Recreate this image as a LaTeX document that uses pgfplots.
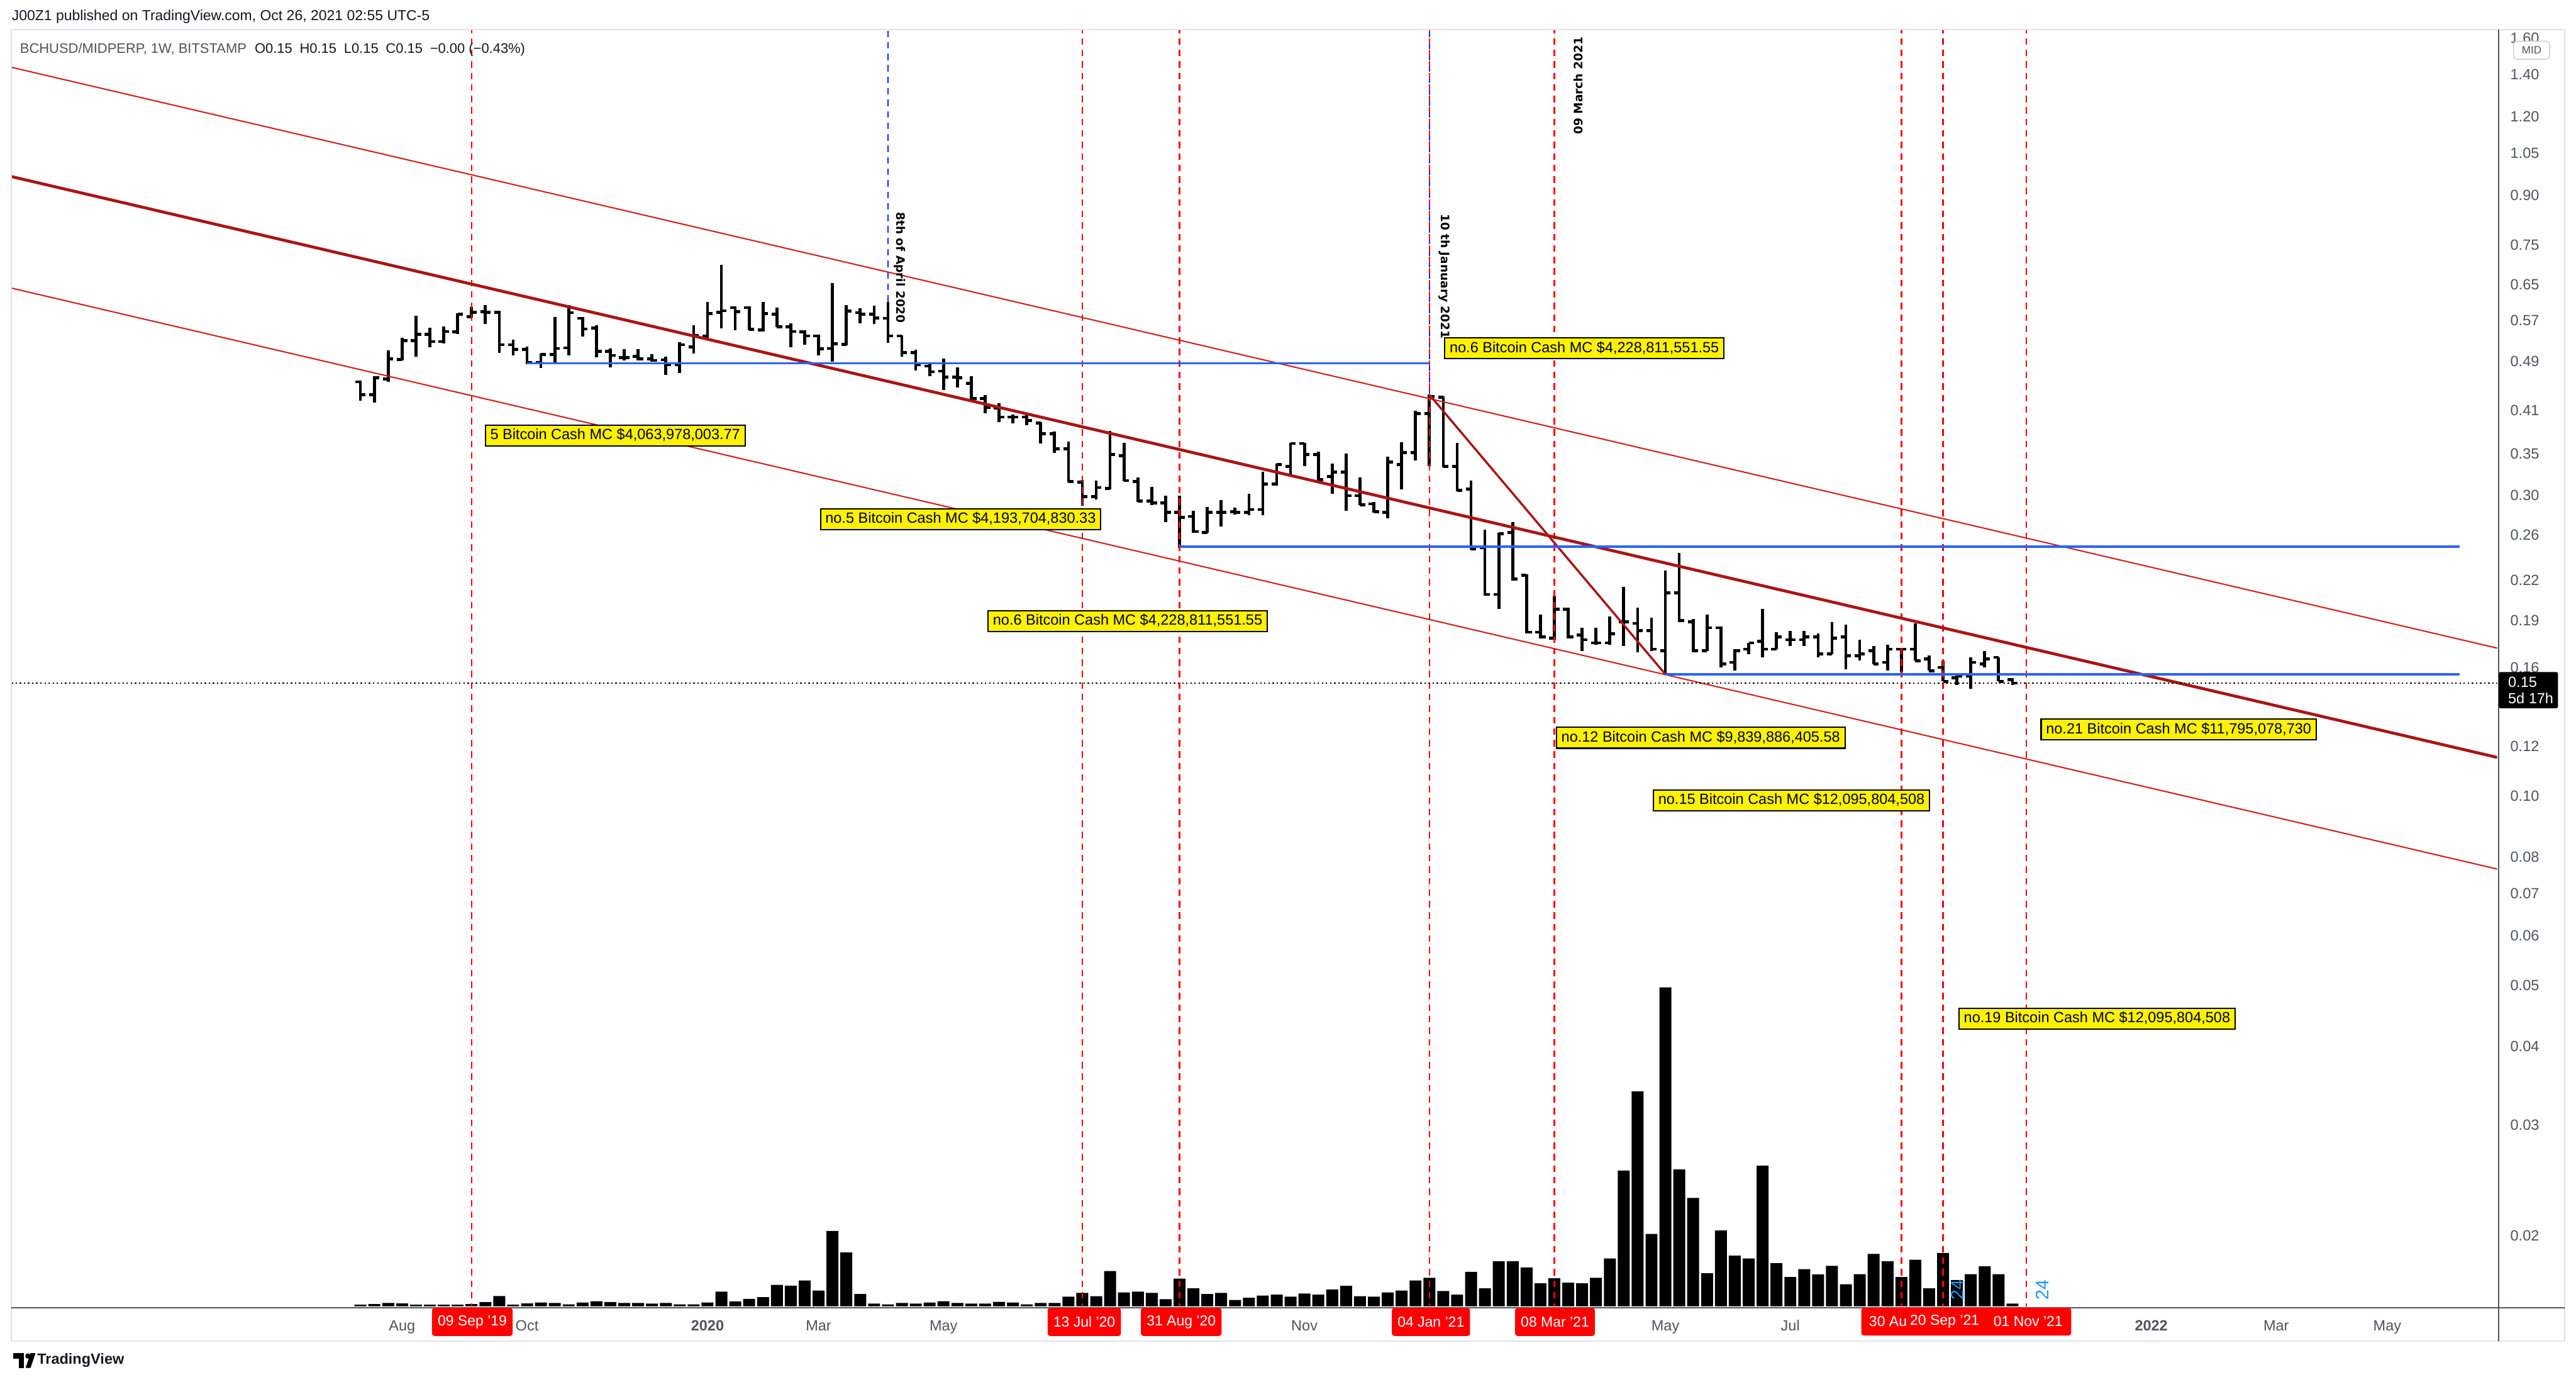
\documentclass[border=0pt]{standalone}
\usepackage{pgfplots}
\pgfplotsset{compat=1.18}
\usepackage{pgfplotstable}
\usepackage{fontspec}
\setmainfont{Liberation Sans}
\newfontfamily\dvsans{DejaVu Sans}
\definecolor{tvred}{RGB}{255,0,0}
\definecolor{chred}{RGB}{170,20,20}
\definecolor{thinred}{RGB}{205,35,35}
\definecolor{tvblue}{RGB}{41,98,255}
\definecolor{vblue}{RGB}{20,40,255}
\definecolor{axgray}{RGB}{80,83,94}
\definecolor{tvtext}{RGB}{19,23,34}
\definecolor{framegray}{RGB}{224,227,235}
\definecolor{labelblue}{RGB}{33,150,243}

\pgfplotstableread{
w O H L C
-8 0.455 0.457 0.425 0.434
-7 0.434 0.464 0.422 0.462
-6 0.460 0.510 0.455 0.495
-5 0.494 0.534 0.492 0.529
-4 0.529 0.579 0.499 0.541
-3 0.541 0.554 0.516 0.527
-2 0.527 0.557 0.524 0.547
-1 0.546 0.584 0.542 0.583
0 0.577 0.598 0.575 0.587
1 0.588 0.603 0.562 0.587
2 0.587 0.590 0.506 0.521
3 0.521 0.531 0.501 0.512
4 0.512 0.517 0.485 0.488
5 0.488 0.505 0.479 0.503
6 0.503 0.576 0.488 0.514
7 0.515 0.603 0.501 0.586
8 0.574 0.576 0.537 0.552
9 0.554 0.559 0.498 0.509
10 0.509 0.514 0.480 0.501
11 0.497 0.513 0.492 0.497
12 0.499 0.513 0.492 0.495
13 0.495 0.503 0.490 0.492
14 0.493 0.499 0.467 0.485
15 0.485 0.526 0.470 0.521
16 0.517 0.560 0.505 0.539
17 0.538 0.610 0.534 0.584
18 0.587 0.698 0.553 0.590
19 0.597 0.599 0.549 0.588
20 0.597 0.599 0.549 0.551
21 0.550 0.610 0.547 0.584
22 0.583 0.597 0.556 0.556
23 0.556 0.563 0.516 0.547
24 0.546 0.550 0.521 0.538
25 0.538 0.541 0.501 0.513
26 0.514 0.653 0.490 0.523
27 0.522 0.602 0.520 0.589
28 0.586 0.595 0.563 0.583
29 0.583 0.601 0.562 0.575
30 0.574 0.610 0.525 0.538
31 0.538 0.540 0.499 0.506
32 0.506 0.512 0.474 0.484
33 0.482 0.485 0.464 0.472
34 0.473 0.495 0.441 0.463
35 0.463 0.480 0.446 0.462
36 0.452 0.464 0.426 0.428
37 0.428 0.433 0.405 0.414
38 0.413 0.421 0.393 0.400
39 0.400 0.404 0.391 0.400
40 0.400 0.406 0.388 0.395
41 0.391 0.393 0.363 0.376
42 0.376 0.379 0.351 0.356
43 0.356 0.366 0.315 0.316
44 0.315 0.318 0.289 0.299
45 0.299 0.317 0.296 0.309
46 0.308 0.380 0.307 0.349
47 0.347 0.364 0.316 0.317
48 0.316 0.321 0.293 0.294
49 0.294 0.310 0.290 0.292
50 0.292 0.300 0.272 0.282
51 0.282 0.300 0.248 0.277
52 0.278 0.284 0.262 0.263
53 0.262 0.288 0.262 0.282
54 0.282 0.295 0.268 0.282
55 0.283 0.287 0.280 0.282
56 0.282 0.302 0.279 0.285
57 0.285 0.327 0.279 0.313
58 0.313 0.337 0.311 0.336
59 0.334 0.364 0.324 0.363
60 0.363 0.364 0.334 0.349
61 0.349 0.352 0.317 0.318
62 0.322 0.337 0.302 0.327
63 0.327 0.350 0.284 0.300
64 0.300 0.321 0.290 0.290
65 0.291 0.293 0.282 0.283
66 0.282 0.346 0.276 0.339
67 0.336 0.365 0.307 0.351
68 0.351 0.409 0.341 0.405
69 0.405 0.434 0.334 0.431
70 0.430 0.431 0.333 0.334
71 0.334 0.364 0.305 0.306
72 0.307 0.317 0.246 0.247
73 0.248 0.265 0.208 0.209
74 0.209 0.262 0.198 0.261
75 0.262 0.272 0.220 0.221
76 0.224 0.225 0.181 0.182
77 0.182 0.194 0.178 0.179
78 0.178 0.208 0.177 0.198
79 0.198 0.199 0.178 0.179
80 0.180 0.185 0.170 0.177
81 0.175 0.185 0.174 0.175
82 0.175 0.193 0.174 0.181
83 0.189 0.215 0.173 0.189
84 0.188 0.199 0.169 0.183
85 0.183 0.192 0.170 0.171
86 0.170 0.228 0.156 0.210
87 0.210 0.243 0.189 0.190
88 0.189 0.191 0.169 0.170
89 0.170 0.194 0.170 0.185
90 0.185 0.186 0.160 0.162
91 0.163 0.171 0.158 0.170
92 0.171 0.175 0.168 0.175
93 0.176 0.198 0.166 0.171
94 0.171 0.182 0.171 0.179
95 0.177 0.183 0.173 0.177
96 0.177 0.183 0.173 0.179
97 0.179 0.181 0.166 0.168
98 0.168 0.189 0.168 0.178
99 0.179 0.187 0.159 0.167
100 0.167 0.177 0.164 0.168
101 0.170 0.173 0.162 0.162
102 0.163 0.174 0.158 0.171
103 0.171 0.172 0.157 0.171
104 0.171 0.188 0.164 0.164
105 0.165 0.167 0.158 0.158
106 0.160 0.164 0.152 0.152
107 0.154 0.156 0.150 0.155
108 0.155 0.166 0.148 0.163
109 0.162 0.170 0.160 0.165
110 0.166 0.166 0.152 0.152
111 0.153 0.154 0.150 0.151
}\ohlc

\pgfplotstableread{
w v
-8 7
-7 10
-6 15
-5 13
-4 7
-3 7
-2 7
-1 7
0 10
1 19
2 46
3 7
4 13
5 17
6 15
7 9
8 17
9 23
10 19
11 15
12 15
13 12
14 15
15 9
16 9
17 17
18 65
19 22
20 33
21 41
22 95
23 92
24 115
25 70
26 335
27 240
28 55
29 12
30 9
31 15
32 12
33 17
34 23
35 15
36 12
37 12
38 20
39 17
40 9
41 15
42 15
43 43
44 60
45 45
46 157
47 62
48 65
49 60
50 32
51 123
52 80
53 55
54 60
55 28
56 38
57 48
58 52
59 43
60 57
61 52
62 75
63 91
64 45
65 43
66 62
67 70
68 115
69 127
70 68
71 52
72 153
73 80
74 200
75 200
76 173
77 102
78 125
79 105
80 102
81 127
82 213
83 603
84 955
85 322
86 1417
87 608
88 482
89 147
90 337
91 225
92 213
93 625
94 192
95 130
96 165
97 142
98 180
99 98
100 143
101 233
102 200
103 130
104 207
105 80
106 237
107 117
108 143
109 178
110 143
111 12
}\vol

\pgfplotsset{ohlc/.style={black, line width=1.8pt, forget plot}}

\begin{document}
\begin{tikzpicture}[x=1pt,y=1pt]
\useasboundingbox (0,0) rectangle (1568,841);
\fill[white] (0,0) rectangle (1568,841);

% volume
\begin{axis}[at={(7pt,46pt)}, anchor=south west, scale only axis,
  width=1513pt, height=777pt, xmin=-33.136, xmax=145.917,
  ymin=0, ymax=5672, hide axis]
\addplot[ybar, bar width=0.86, fill=black, draw=none] table[x=w,y=v] {\vol};
\end{axis}

% price
\begin{axis}[at={(7pt,46pt)}, anchor=south west, scale only axis,
  width=1513pt, height=777pt, xmin=-33.136, xmax=145.917,
  ymode=log, ymin=0.01544, ymax=1.651,
  unbounded coords=jump,
  axis line style={draw=none},
  major tick length=0pt,
  ytick={0.02,0.03,0.04,0.05,0.06,0.07,0.08,0.10,0.12,0.16,0.19,0.22,0.26,0.30,0.35,0.41,0.49,0.57,0.65,0.75,0.90,1.05,1.20,1.40,1.60},
  yticklabels={0.02,0.03,0.04,0.05,0.06,0.07,0.08,0.10,0.12,0.16,0.19,0.22,0.26,0.30,0.35,0.41,0.49,0.57,0.65,0.75,0.90,1.05,1.20,1.40,1.60},
  yticklabel pos=right,
  yticklabel style={font=\fontsize{9}{10}\selectfont, text=axgray, anchor=west, xshift=4.5pt},
  xtick={-5,4,17,25,34,60,86,95,121,130,138},
  xticklabels={Aug,Oct,\textbf{2020},Mar,May,Nov,May,Jul,\textbf{2022},Mar,May},
  xticklabel style={font=\fontsize{9}{10}\selectfont, text=axgray, anchor=base, yshift=-14.7pt},
  ]
\pgfplotstablegetrowsof{\ohlc}
\pgfmathtruncatemacro{\lastrow}{\pgfplotsretval-1}
\pgfplotsforeachungrouped \r in {0,...,\lastrow}{%
  \pgfplotstablegetelem{\r}{w}\of\ohlc \let\bw=\pgfplotsretval
  \pgfplotstablegetelem{\r}{O}\of\ohlc \let\bo=\pgfplotsretval
  \pgfplotstablegetelem{\r}{H}\of\ohlc \let\bh=\pgfplotsretval
  \pgfplotstablegetelem{\r}{L}\of\ohlc \let\bl=\pgfplotsretval
  \pgfplotstablegetelem{\r}{C}\of\ohlc \let\bc=\pgfplotsretval
  \pgfmathsetmacro{\wl}{\bw-0.37}%
  \pgfmathsetmacro{\wr}{\bw+0.37}%
  \edef\doplot{\noexpand\addplot[ohlc] coordinates {(\bw,\bl) (\bw,\bh) (\bw,nan) (\wl,\bo) (\bw,\bo) (\bw,nan) (\bw,\bc) (\wr,\bc)};}%
  \doplot
}
% vertical date lines
\pgfplotsinvokeforeach{0,44,51,69,78,103,106,112}{
  \addplot[tvred, line width=0.9pt, dash pattern=on 4pt off 3pt, forget plot] coordinates {(#1,0.01) (#1,2)};
}
\addplot[vblue, line width=0.8pt, dash pattern=on 4pt off 3pt] coordinates {(30,0.61) (30,2)};
\addplot[vblue, line width=0.8pt, dash pattern=on 3pt off 4pt, dash phase=-0.5pt] coordinates {(69,0.434) (69,2)};
% channel
\addplot[thinred, line width=0.8pt] coordinates {(-33.136,1.438) (145.917,0.1717)};
\addplot[chred, line width=1.8pt] coordinates {(-33.136,0.964) (145.917,0.1151)};
\addplot[thinred, line width=0.8pt] coordinates {(-33.136,0.641) (145.917,0.0765)};
\addplot[chred, line width=1.3pt] coordinates {(69,0.434) (86,0.156)};
% horizontal levels
\addplot[tvblue, line width=1.3pt] coordinates {(4,0.487) (69,0.487)};
\addplot[tvblue, line width=1.3pt] coordinates {(51,0.249) (143.2,0.249)};
\addplot[tvblue, line width=1.3pt] coordinates {(86,0.156) (143.2,0.156)};
\addplot[black, line width=0.8pt, dash pattern=on 0.9pt off 1.6pt] coordinates {(-33.136,0.151) (145.917,0.151)};
\end{axis}

% frame and axes lines
\draw[framegray, line width=0.8pt] (7,823) rectangle (1561,25);
\draw[axgray, line width=0.8pt] (7,45.2) -- (1561,45.2);
\draw[axgray, line width=0.8pt] (1521,823) -- (1521,25);

% header
\node[anchor=west, inner sep=0, font=\fontsize{8.8}{10}\selectfont, text=tvtext] at (7,831) {J00Z1 published on TradingView.com, Oct 26, 2021 02:55 UTC-5};
\node[anchor=west, inner sep=0, font=\fontsize{8.4}{10}\selectfont, text=tvtext] at (12,811) {\textcolor{axgray}{BCHUSD/MIDPERP, 1W, BITSTAMP}\hspace{5pt}O0.15\hspace{4.5pt}H0.15\hspace{4.5pt}L0.15\hspace{4.5pt}C0.15\hspace{4.5pt}−0.00 (−0.43\%)};

% rotated notes
\node[rotate=-90, anchor=west, inner sep=0, font=\dvsans\bfseries\fontsize{7.1}{9}\selectfont] at (547.5,712) {8th of April 2020};
\node[rotate=-90, anchor=west, inner sep=0, font=\dvsans\bfseries\fontsize{7.1}{9}\selectfont] at (879,711) {10 th January 2021};
\node[rotate=90, anchor=west, inner sep=0, font=\dvsans\bfseries\fontsize{7.1}{9}\selectfont] at (960.5,759) {09 March 2021};

% yellow notes
\tikzset{lab/.style={anchor=west, fill=yellow, draw=black, line width=0.8pt, inner xsep=3pt, inner ysep=2pt, text height=6.8pt, text depth=1.9pt, font=\fontsize{9}{10}\selectfont}}
\node[lab] at (295,576) {5 Bitcoin Cash MC \$4,063,978,003.77};
\node[lab] at (499,525) {no.5 Bitcoin Cash MC \$4,193,704,830.33};
\node[lab] at (601,463) {no.6 Bitcoin Cash MC \$4,228,811,551.55};
\node[lab] at (879,629) {no.6 Bitcoin Cash MC \$4,228,811,551.55};
\node[lab] at (947,392) {no.12 Bitcoin Cash MC \$9,839,886,405.58};
\node[lab] at (1006,354) {no.15 Bitcoin Cash MC \$12,095,804,508};
\node[lab] at (1192,221) {no.19 Bitcoin Cash MC \$12,095,804,508};
\node[lab] at (1242,397) {no.21 Bitcoin Cash MC \$11,795,078,730};

% blue small texts
\node[rotate=90, inner sep=0, text=labelblue, font=\fontsize{11}{12}\selectfont] at (1191.5,56) {24};
\node[rotate=90, inner sep=0, text=labelblue, font=\fontsize{11}{12}\selectfont] at (1243,56) {24};

% date boxes
\tikzset{dbox/.style={anchor=north, fill=tvred, text=white, inner xsep=3.5pt, minimum height=17pt, rounded corners=1.5pt, font=\fontsize{8.8}{10}\selectfont}}
\node[dbox] at (287.5,45.2) {09 Sep '19};
\node[dbox] at (660,45.2) {13 Jul '20};
\node[dbox] at (719,45.2) {31 Aug '20};
\node[dbox] at (871,45.2) {04 Jan '21};
\node[dbox] at (946.5,45.2) {08 Mar '21};
\fill[tvred, rounded corners=1.5pt] (1133,28.2) rectangle (1260.7,45.2);
\node[anchor=west, text=white, inner sep=0, font=\fontsize{8.8}{10}\selectfont] at (1137.5,36.7) {30 Au};
\node[text=white, inner sep=0, font=\fontsize{8.8}{10}\selectfont] at (1183.7,36.7) {20 Sep '21};
\node[text=white, inner sep=0, font=\fontsize{8.8}{10}\selectfont] at (1234.5,36.7) {01 Nov '21};

% price label
\fill[black, rounded corners=1pt] (1521,432) rectangle (1557,410);
\node[anchor=west, inner sep=0, text=white, font=\fontsize{9}{10}\selectfont] at (1526.5,426) {0.15};
\node[anchor=west, inner sep=0, text=white, font=\fontsize{9}{10}\selectfont] at (1526.5,416) {5d 17h};

% MID
\node[draw=gray!50, fill=white, rounded corners=2pt, inner sep=0, minimum width=22pt, minimum height=11pt, text=axgray, font=\fontsize{6.5}{7}\selectfont] at (1541,810.5) {MID};

% logo
\fill[black] (8,17.5) rectangle (14.5,14.3);
\fill[black] (11.5,17.5) rectangle (14.5,8.5);
\fill[black] (17,15.8) circle (1.6);
\fill[black] (15.6,8.5) -- (18.6,8.5) -- (21.6,17.5) -- (18.6,17.5) -- cycle;
\node[anchor=west, inner sep=0, font=\bfseries\fontsize{9}{10}\selectfont, text=tvtext] at (22.5,13) {TradingView};
\end{tikzpicture}
\end{document}
